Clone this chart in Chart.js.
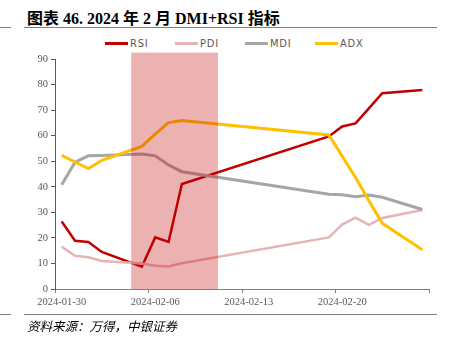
<!DOCTYPE html>
<html>
<head>
<meta charset="utf-8">
<script src="https://cdn.jsdelivr.net/npm/chart.js@4"></script>
<style>
  html, body { margin: 0; padding: 0; background: #fff; }
  #wrap { position: relative; width: 451px; height: 348px; overflow: hidden; }
  #chart { position: absolute; left: 0; top: 0; }
  .title { position: absolute; left: 27px; top: 5px; font: bold 16px "Liberation Serif", "Noto Sans CJK SC", serif; color: #000; white-space: nowrap; }
  .rule { position: absolute; height: 0; border-top: 1.5px solid #808080; }
  .source { position: absolute; left: 27px; top: 316px; font: italic 12.5px "Liberation Serif", "Noto Sans CJK SC", serif; color: #000; white-space: nowrap; }
  #legend { position: absolute; left: 105px; top: 37px; display: flex; }
  #legend .item { width: 70px; display: flex; align-items: center; font: 11px "DejaVu Sans Condensed", "Liberation Sans", sans-serif; font-stretch: condensed; color: #595959; letter-spacing: 0.8px; }
  #legend .swatch { width: 23px; height: 3px; margin-right: 2px; }
</style>
</head>
<body>
<div id="wrap">
  <div class="title">图表 46. 2024 年 2 月 DMI+RSI 指标</div>
  <div class="rule" style="left:24px; top:27px; width:413px;"></div>
  <div class="rule" style="left:0; top:27px; width:11px;"></div>
  <div id="legend"></div>
  <canvas id="chart" width="451" height="348"></canvas>
  <div class="rule" style="left:24px; top:314px; width:413px;"></div>
  <div class="rule" style="left:0; top:314px; width:11px;"></div>
  <div class="source">资料来源：万得，中银证券</div>
</div>
<script>
var dates = ['2024-01-30', '2024-01-31', '2024-02-01', '2024-02-02', '2024-02-05', '2024-02-06', '2024-02-07',
             '2024-02-08', '2024-02-19', '2024-02-20', '2024-02-21', '2024-02-22', '2024-02-23', '2024-02-26'];
var rsi = [26.4, 18.9, 18.4, 14.5, 8.7, 20.2, 18.4, 41.1, 59.7, 63.6, 64.8, 70.7, 76.6, 77.9];
var pdi = [16.5, 13.0, 12.4, 11.0, 10.0, 9.1, 8.8, 10.1, 20.2, 25.2, 27.9, 25.1, 27.8, 30.9];
var mdi = [40.8, 49.6, 52.1, 52.2, 52.8, 52.1, 48.5, 45.9, 37.1, 36.9, 36.1, 36.8, 35.9, 31.1];
var adx = [52.3, 49.7, 47.1, 50.3, 55.8, 60.6, 65.1, 65.9, 60.3, 52.0, 43.6, 34.5, 25.7, 15.4];

var tickLabels = ['2024-01-30', '2024-02-06', '2024-02-13', '2024-02-20', ''];
var axisStart = '2024-01-30';
var axisDays = 28;

// shaded period (days after 2024-01-30) and its top value
var shadeFrom = 5.2, shadeTo = 11.7, shadeTop = 92.5;

function dayIndex(d) {
  return Math.round((Date.parse(d) - Date.parse(axisStart)) / 86400000);
}

function points(values) {
  return values.map(function(v, i) { return { x: dayIndex(dates[i]), y: v }; });
}

var tickValues = tickLabels.map(function(l, i) { return i * 7 - 0.5; });

var shadePlugin = {
  id: 'shade',
  afterDatasetsDraw: function(chart) {
    var x = chart.scales.x, y = chart.scales.y, ctx = chart.ctx;
    var x0 = x.getPixelForValue(shadeFrom), x1 = x.getPixelForValue(shadeTo);
    var y0 = y.getPixelForValue(shadeTop), y1 = y.getPixelForValue(0);
    ctx.save();
    ctx.fillStyle = 'rgba(192,0,0,0.3)';
    ctx.fillRect(x0, y0, x1 - x0, y1 - y0);
    ctx.restore();
  }
};

var ctx = document.getElementById('chart').getContext('2d');
var chart = new Chart(ctx, {
  type: 'line',
  data: {
    datasets: [
      { label: 'RSI', data: points(rsi), borderColor: '#C00000', borderWidth: 2.5, order: 4 },
      { label: 'PDI', data: points(pdi), borderColor: '#E6B4B4', borderWidth: 2.5, order: 3 },
      { label: 'MDI', data: points(mdi), borderColor: '#A6A6A6', borderWidth: 3, order: 2 },
      { label: 'ADX', data: points(adx), borderColor: '#FFC000', borderWidth: 3, order: 1 }
    ]
  },
  options: {
    responsive: false,
    animation: false,
    elements: { point: { radius: 0 }, line: { tension: 0, borderCapStyle: 'butt' } },
    layout: { padding: { left: 0, top: 59, right: 22, bottom: 0 } },
    plugins: { legend: { display: false }, tooltip: { enabled: false } },
    scales: {
      x: {
        type: 'linear', min: -0.5, max: axisDays - 0.5,
        afterBuildTicks: function(scale) { scale.ticks = tickValues.map(function(v) { return { value: v }; }); },
        afterFit: function(scale) { scale.height = 59; },
        grid: { drawOnChartArea: false, drawTicks: true, tickLength: 4, color: '#808080' },
        border: { color: '#808080', width: 1 },
        ticks: {
          autoSkip: false, maxRotation: 0, labelOffset: 6.7, padding: 3,
          color: '#595959', font: { family: 'Liberation Serif', size: 10.5 },
          callback: function(v, i) { return tickLabels[i]; }
        }
      },
      y: {
        min: 0, max: 90,
        afterFit: function(scale) { scale.width = 55; },
        grid: { drawOnChartArea: false, drawTicks: true, tickLength: 4, color: '#595959' },
        border: { color: '#595959', width: 1 },
        ticks: { stepSize: 10, padding: 3, color: '#595959', font: { family: 'Liberation Serif', size: 10.5 } }
      }
    }
  },
  plugins: [shadePlugin]
});

var legend = document.getElementById('legend');
chart.data.datasets.forEach(function(ds) {
  var item = document.createElement('div');
  item.className = 'item';
  item.innerHTML = '<span class="swatch" style="background:' + ds.borderColor + '"></span>' + ds.label;
  legend.appendChild(item);
});
</script>
</body>
</html>
